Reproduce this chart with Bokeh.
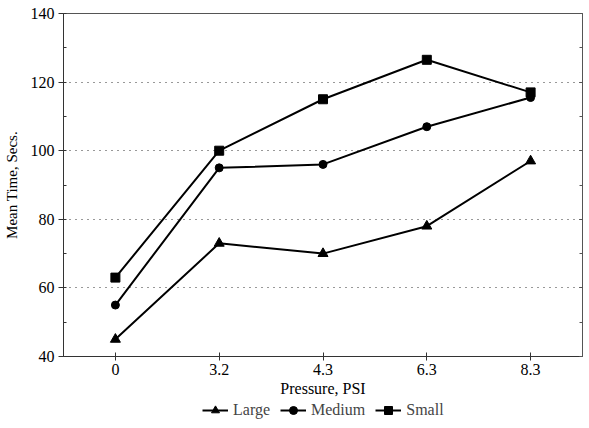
from bokeh.plotting import figure
from bokeh.layouts import column
from bokeh.models import (SingleIntervalTicker, LinearAxis, Legend, LegendItem, Range1d)
from bokeh.embed import file_html
from bokeh.resources import INLINE

pressure = ["0", "3.2", "4.3", "6.3", "8.3"]
large = [45, 73, 70, 78, 97]
medium = [55, 95, 96, 107, 115.5]
small = [63, 100, 115, 126.5, 117]
series_names = ["Large", "Medium", "Small"]

FONT = "Liberation Serif"

p = figure(x_range=pressure, y_range=Range1d(40, 140), frame_width=519, frame_height=343,
           output_backend="svg", toolbar_location=None,
           min_border_left=60, min_border_right=3, min_border_top=13, min_border_bottom=10)

p.outline_line_color = "#555555"
p.outline_line_width = 1
p.background_fill_color = "white"
p.border_fill_color = "white"

p.xgrid.grid_line_color = None
p.ygrid.grid_line_color = "#333333"
p.ygrid.grid_line_dash = "1 5"
p.ygrid.grid_line_width = 1
p.ygrid.ticker = SingleIntervalTicker(interval=20, num_minor_ticks=2)

p.yaxis.ticker = SingleIntervalTicker(interval=20, num_minor_ticks=2)
p.yaxis.axis_label = "Mean Time, Secs."
p.xaxis.axis_label = "Pressure, PSI"

for ax in (p.xaxis[0], p.yaxis[0]):
    ax.axis_label_text_font = FONT
    ax.axis_label_text_font_style = "normal"
    ax.axis_label_text_font_size = "16px"
    ax.major_label_text_font = FONT
    ax.major_label_text_font_size = "16px"
    ax.axis_line_color = "#333333"
    ax.major_tick_line_color = "#333333"
    ax.minor_tick_line_color = "#333333"
    ax.major_label_text_color = "black"
    ax.axis_label_text_color = "black"

p.yaxis.axis_label_text_font_size = "15px"
p.yaxis.major_tick_out = 5
p.yaxis.major_tick_in = 0
p.yaxis.minor_tick_out = 0
p.yaxis.minor_tick_in = 3
p.yaxis.axis_label_standoff = 8
p.yaxis.major_label_standoff = 4
p.xaxis.major_tick_out = 4
p.xaxis.major_tick_in = 4
p.xaxis.axis_label_standoff = 2
p.xaxis.major_label_standoff = 3

right = LinearAxis(ticker=SingleIntervalTicker(interval=20, num_minor_ticks=2),
                   major_label_text_font_size="0px", major_tick_in=3, major_tick_out=0,
                   minor_tick_in=3, minor_tick_out=0, axis_line_color="#555555",
                   major_tick_line_color="#555555", minor_tick_line_color="#555555")
p.add_layout(right, "right")

lw = 2
styles = [("triangle", 10), ("circle", 8), ("square", 9)]
for vals, (mk, sz) in zip([large, medium, small], styles):
    p.line(pressure, vals, line_color="black", line_width=lw)
    p.scatter(pressure, vals, marker=mk, size=sz, color="black")

# legend strip below the chart
leg = figure(width=60 + 519 + 3, height=21, output_backend="svg",
             toolbar_location=None, x_range=Range1d(0, 1), y_range=Range1d(0, 1),
             min_border=0, outline_line_color=None)
leg.axis.visible = False
leg.grid.visible = False
items = []
for name, (mk, sz) in zip(series_names, styles):
    lr = leg.line([-5, -4], [-5, -4], line_color="black", line_width=lw)
    sr = leg.scatter([-5], [-5], marker=mk, size=sz, color="black")
    items.append(LegendItem(label=name, renderers=[lr, sr]))
legend = Legend(items=items, orientation="horizontal", location=(139, 0),
                border_line_alpha=0, background_fill_alpha=0,
                label_text_font=FONT, label_text_font_size="16px",
                glyph_width=26, label_standoff=5, spacing=10,
                padding=0, margin=0)
leg.add_layout(legend)

layout = column(p, leg, spacing=0)
open("out.html", "w").write(file_html(layout, INLINE))
